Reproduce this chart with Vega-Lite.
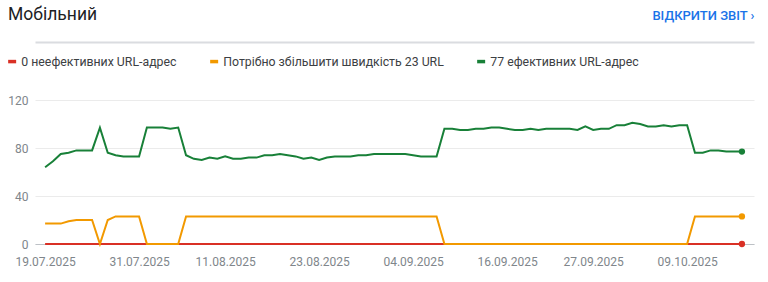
{
  "$schema": "https://vega.github.io/schema/vega-lite/v6.json",
  "width": 719,
  "height": 144,
  "autosize": "none",
  "padding": {"left": 35, "top": 100, "right": 14, "bottom": 38},
  "background": "#ffffff",
  "title": {
    "text": "Мобільний",
    "anchor": "start",
    "frame": "group",
    "font": "Roboto",
    "fontSize": 17.5,
    "fontWeight": 400,
    "color": "#202124",
    "dx": -27,
    "dy": 24,
    "offset": 10
  },
  "config": {
    "view": {"stroke": null},
    "font": "Roboto"
  },
  "data": {
    "values": [
      {"d":"2025-07-19","r":0,"o":17,"g":64},
      {"d":"2025-07-20","r":0,"o":17,"g":69},
      {"d":"2025-07-21","r":0,"o":17,"g":75},
      {"d":"2025-07-22","r":0,"o":19,"g":76},
      {"d":"2025-07-23","r":0,"o":20,"g":78},
      {"d":"2025-07-24","r":0,"o":20,"g":78},
      {"d":"2025-07-25","r":0,"o":20,"g":78},
      {"d":"2025-07-26","r":0,"o":0,"g":97},
      {"d":"2025-07-27","r":0,"o":20,"g":76},
      {"d":"2025-07-28","r":0,"o":23,"g":74},
      {"d":"2025-07-29","r":0,"o":23,"g":73},
      {"d":"2025-07-30","r":0,"o":23,"g":73},
      {"d":"2025-07-31","r":0,"o":23,"g":73},
      {"d":"2025-08-01","r":0,"o":0,"g":97},
      {"d":"2025-08-02","r":0,"o":0,"g":97},
      {"d":"2025-08-03","r":0,"o":0,"g":97},
      {"d":"2025-08-04","r":0,"o":0,"g":96},
      {"d":"2025-08-05","r":0,"o":0,"g":97},
      {"d":"2025-08-06","r":0,"o":23,"g":74},
      {"d":"2025-08-07","r":0,"o":23,"g":71},
      {"d":"2025-08-08","r":0,"o":23,"g":70},
      {"d":"2025-08-09","r":0,"o":23,"g":72},
      {"d":"2025-08-10","r":0,"o":23,"g":71},
      {"d":"2025-08-11","r":0,"o":23,"g":73},
      {"d":"2025-08-12","r":0,"o":23,"g":71},
      {"d":"2025-08-13","r":0,"o":23,"g":71},
      {"d":"2025-08-14","r":0,"o":23,"g":72},
      {"d":"2025-08-15","r":0,"o":23,"g":72},
      {"d":"2025-08-16","r":0,"o":23,"g":74},
      {"d":"2025-08-17","r":0,"o":23,"g":74},
      {"d":"2025-08-18","r":0,"o":23,"g":75},
      {"d":"2025-08-19","r":0,"o":23,"g":74},
      {"d":"2025-08-20","r":0,"o":23,"g":73},
      {"d":"2025-08-21","r":0,"o":23,"g":71},
      {"d":"2025-08-22","r":0,"o":23,"g":72},
      {"d":"2025-08-23","r":0,"o":23,"g":70},
      {"d":"2025-08-24","r":0,"o":23,"g":72},
      {"d":"2025-08-25","r":0,"o":23,"g":73},
      {"d":"2025-08-26","r":0,"o":23,"g":73},
      {"d":"2025-08-27","r":0,"o":23,"g":73},
      {"d":"2025-08-28","r":0,"o":23,"g":74},
      {"d":"2025-08-29","r":0,"o":23,"g":74},
      {"d":"2025-08-30","r":0,"o":23,"g":75},
      {"d":"2025-08-31","r":0,"o":23,"g":75},
      {"d":"2025-09-01","r":0,"o":23,"g":75},
      {"d":"2025-09-02","r":0,"o":23,"g":75},
      {"d":"2025-09-03","r":0,"o":23,"g":75},
      {"d":"2025-09-04","r":0,"o":23,"g":74},
      {"d":"2025-09-05","r":0,"o":23,"g":73},
      {"d":"2025-09-06","r":0,"o":23,"g":73},
      {"d":"2025-09-07","r":0,"o":23,"g":73},
      {"d":"2025-09-08","r":0,"o":0,"g":96},
      {"d":"2025-09-09","r":0,"o":0,"g":96},
      {"d":"2025-09-10","r":0,"o":0,"g":95},
      {"d":"2025-09-11","r":0,"o":0,"g":95},
      {"d":"2025-09-12","r":0,"o":0,"g":96},
      {"d":"2025-09-13","r":0,"o":0,"g":96},
      {"d":"2025-09-14","r":0,"o":0,"g":97},
      {"d":"2025-09-15","r":0,"o":0,"g":97},
      {"d":"2025-09-16","r":0,"o":0,"g":96},
      {"d":"2025-09-17","r":0,"o":0,"g":95},
      {"d":"2025-09-18","r":0,"o":0,"g":95},
      {"d":"2025-09-19","r":0,"o":0,"g":96},
      {"d":"2025-09-20","r":0,"o":0,"g":95},
      {"d":"2025-09-21","r":0,"o":0,"g":96},
      {"d":"2025-09-22","r":0,"o":0,"g":96},
      {"d":"2025-09-23","r":0,"o":0,"g":96},
      {"d":"2025-09-24","r":0,"o":0,"g":96},
      {"d":"2025-09-25","r":0,"o":0,"g":95},
      {"d":"2025-09-26","r":0,"o":0,"g":98},
      {"d":"2025-09-27","r":0,"o":0,"g":95},
      {"d":"2025-09-28","r":0,"o":0,"g":96},
      {"d":"2025-09-29","r":0,"o":0,"g":96},
      {"d":"2025-09-30","r":0,"o":0,"g":99},
      {"d":"2025-10-01","r":0,"o":0,"g":99},
      {"d":"2025-10-02","r":0,"o":0,"g":101},
      {"d":"2025-10-03","r":0,"o":0,"g":100},
      {"d":"2025-10-04","r":0,"o":0,"g":98},
      {"d":"2025-10-05","r":0,"o":0,"g":98},
      {"d":"2025-10-06","r":0,"o":0,"g":99},
      {"d":"2025-10-07","r":0,"o":0,"g":98},
      {"d":"2025-10-08","r":0,"o":0,"g":99},
      {"d":"2025-10-09","r":0,"o":0,"g":99},
      {"d":"2025-10-10","r":0,"o":23,"g":76},
      {"d":"2025-10-11","r":0,"o":23,"g":76},
      {"d":"2025-10-12","r":0,"o":23,"g":78},
      {"d":"2025-10-13","r":0,"o":23,"g":78},
      {"d":"2025-10-14","r":0,"o":23,"g":77},
      {"d":"2025-10-15","r":0,"o":23,"g":77},
      {"d":"2025-10-16","r":0,"o":23,"g":77}
    ]
  },
  "transform": [
    {"fold": ["r", "o", "g"], "as": ["series", "count"]}
  ],
  "encoding": {
    "x": {
      "field": "d",
      "type": "temporal",
      "scale": {
        "type": "utc",
        "nice": false,
        "domain": [
          {"year": 2025, "month": 7, "date": 17, "hours": 17, "utc": true},
          {"year": 2025, "month": 10, "date": 17, "hours": 13, "utc": true}
        ]
      }
    },
    "y": {
      "field": "count",
      "type": "quantitative",
      "scale": {"domain": [0, 120], "nice": false},
      "axis": {
        "values": [0, 40, 80, 120],
        "title": null,
        "domain": false,
        "ticks": false,
        "labelPadding": 7,
        "labelFont": "Roboto",
        "labelFontSize": 12,
        "labelColor": "#80868b",
        "gridColor": "#ebebeb",
        "gridWidth": 1
      }
    },
    "color": {
      "field": "series",
      "type": "nominal",
      "scale": {"domain": ["r", "o", "g"], "range": ["#d93025", "#f29900", "#188038"]},
      "legend": {
        "orient": "none",
        "legendX": -29,
        "legendY": -45,
        "direction": "horizontal",
        "title": null,
        "symbolType": "stroke",
        "symbolSize": 64,
        "symbolStrokeWidth": 3.5,
        "labelFont": "Roboto",
        "labelFontSize": 12.3,
        "labelColor": "#3c4043",
        "labelOffset": 3,
        "labelLimit": 400,
        "columnPadding": 26,
        "labelExpr": "datum.label == 'r' ? '0 неефективних URL-адрес' : datum.label == 'o' ? 'Потрібно збільшити швидкість 23 URL' : '77 ефективних URL-адрес'"
      }
    }
  },
  "layer": [
    {
      "mark": {"type": "line", "strokeWidth": 2, "interpolate": "linear"},
      "encoding": {
        "x": {
          "field": "d",
          "type": "temporal",
          "axis": {
            "orient": "bottom",
            "title": null,
            "format": "%d.%m.%Y",
            "values": [
              {"year": 2025, "month": 7, "date": 19, "utc": true},
              {"year": 2025, "month": 7, "date": 31, "utc": true},
              {"year": 2025, "month": 8, "date": 11, "utc": true},
              {"year": 2025, "month": 8, "date": 23, "utc": true},
              {"year": 2025, "month": 9, "date": 4, "utc": true},
              {"year": 2025, "month": 9, "date": 16, "utc": true},
              {"year": 2025, "month": 9, "date": 27, "utc": true},
              {"year": 2025, "month": 10, "date": 9, "utc": true}
            ],
            "grid": false,
            "ticks": false,
            "domainColor": "#bdc1c6",
            "domainWidth": 1,
            "labelPadding": 12,
            "labelFont": "Roboto",
            "labelFontSize": 12,
            "labelColor": "#80868b"
          }
        }
      }
    },
    {
      "transform": [
        {"filter": {"field": "d", "equal": {"year": 2025, "month": 10, "date": 16, "utc": true}}}
      ],
      "mark": {"type": "point", "filled": true, "size": 40, "opacity": 1},
      "encoding": {
        "x": {
          "field": "d",
          "type": "temporal",
          "axis": {
            "orient": "top",
            "offset": 58,
            "labels": false,
            "ticks": false,
            "grid": false,
            "domain": true,
            "domainColor": "#dadce0",
            "domainWidth": 2,
            "title": "ВІДКРИТИ ЗВІТ  ›",
            "titleAnchor": "end",
            "titleFont": "Roboto",
            "titleFontSize": 13,
            "titleFontWeight": 500,
            "titleColor": "#1a73e8",
            "titlePadding": 20
          }
        }
      }
    }
  ],
  "resolve": {"axis": {"x": "independent"}}
}
